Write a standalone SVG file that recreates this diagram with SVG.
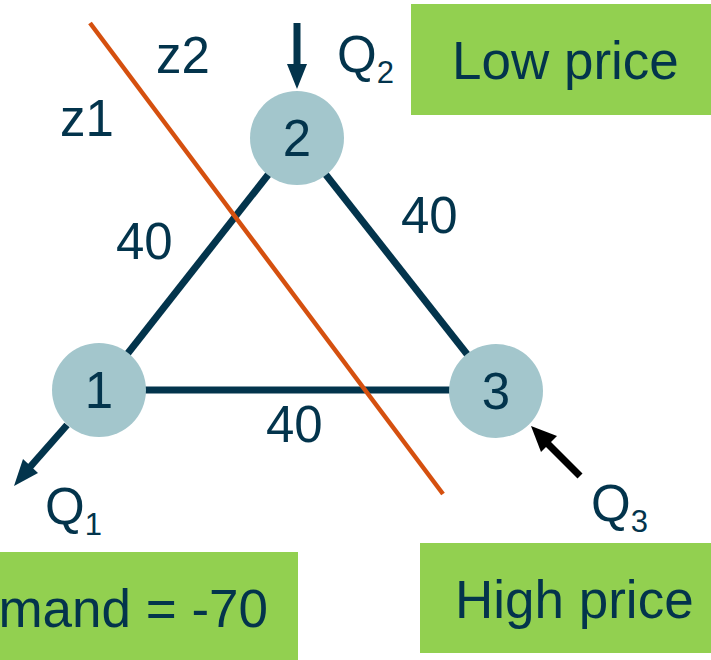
<svg xmlns="http://www.w3.org/2000/svg" width="711" height="660" viewBox="0 0 711 660">
<defs>
<style>
text{font-family:"Liberation Sans",Arial,sans-serif;fill:#03344c}
.lbl{font-size:51px}
.box{font-size:53px}
.sub{font-size:31px}
.edge{stroke:#03344c;stroke-width:7;fill:none}
.node{fill:#a3c6cc}
.green{fill:#92d050}
</style>
</defs>
<rect width="711" height="660" fill="#fff"/>
<g id="boxes">
<g id="low-price"><rect class="green" x="411" y="4" width="300" height="111"/><text class="box" x="452" y="79">Low price</text></g>
<g id="high-price"><rect class="green" x="420" y="543" width="291" height="110"/><text class="box" x="455" y="618">High price</text></g>
<g id="demand"><rect class="green" x="0" y="552" width="298" height="108"/><text class="box" x="268" y="627" text-anchor="end">mand = -70</text></g>
</g>
<g id="connectors">
<line class="edge" x1="99" y1="390" x2="297" y2="138"/>
<line class="edge" x1="297" y1="138" x2="496" y2="391"/>
<line class="edge" x1="99" y1="390" x2="496" y2="390"/>
<line x1="90" y1="23" x2="443" y2="494" stroke="#d5500f" stroke-width="4.5"/>
<line x1="297" y1="23" x2="297" y2="68" stroke="#03344c" stroke-width="7"/>
<polygon points="287,64 307,64 297,89" fill="#03344c"/>
<line x1="67" y1="425" x2="30" y2="467" stroke="#03344c" stroke-width="7"/>
<polygon points="14,486 23,459 38,473" fill="#03344c"/>
<line x1="580" y1="476" x2="546" y2="442" stroke="#000" stroke-width="7"/>
<polygon points="531,426 557,436 541,452" fill="#000"/>
</g>
<g id="node1"><circle class="node" cx="99" cy="390" r="47"/><text class="lbl" x="99" y="408" text-anchor="middle">1</text></g>
<g id="node2"><circle class="node" cx="297" cy="138" r="47"/><text class="lbl" x="297" y="156" text-anchor="middle">2</text></g>
<g id="node3"><circle class="node" cx="496" cy="391" r="47"/><text class="lbl" x="496" y="409" text-anchor="middle">3</text></g>
<g id="labels">
<text class="lbl" x="156" y="73">z2</text>
<text class="lbl" x="60" y="136">z1</text>
<text class="lbl" x="116" y="259">40</text>
<text class="lbl" x="401" y="233">40</text>
<text class="lbl" x="266" y="442">40</text>
<text class="lbl" x="337" y="72">Q<tspan class="sub" dy="11">2</tspan></text>
<text class="lbl" x="45" y="524">Q<tspan class="sub" dy="11">1</tspan></text>
<text class="lbl" x="591" y="521">Q<tspan class="sub" dy="11">3</tspan></text>
</g>
</svg>
